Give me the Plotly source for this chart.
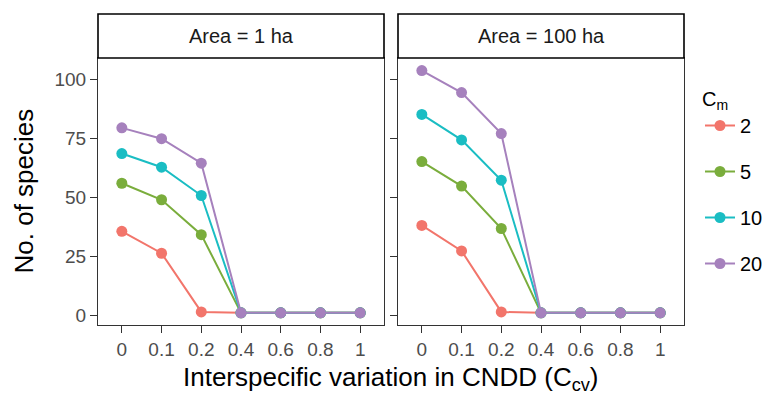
import plotly.graph_objects as go

ccv = ["0", "0.1", "0.2", "0.4", "0.6", "0.8", "1"]
cm_levels = ["2", "5", "10", "20"]
colors = ["#F2756B", "#7AAD3C", "#1ABDC3", "#A681BD"]

area1 = {
    "2":  [35.6, 26.3, 1.4, 1, 1, 1, 1],
    "5":  [56.0, 49.0, 34.2, 1, 1, 1, 1],
    "10": [68.6, 62.8, 50.8, 1, 1, 1, 1],
    "20": [79.5, 74.9, 64.5, 1, 1, 1, 1],
}
area100 = {
    "2":  [38.1, 27.3, 1.4, 1, 1, 1, 1],
    "5":  [65.2, 54.8, 36.8, 1, 1, 1, 1],
    "10": [85.2, 74.4, 57.3, 1, 1, 1, 1],
    "20": [103.8, 94.5, 77.1, 1, 1, 1, 1],
}
panels = ["Area = 1 ha", "Area = 100 ha"]

FONT = "Liberation Sans, Arial, Helvetica, sans-serif"
fig = go.Figure()

for pi, data in enumerate([area1, area100]):
    xa = "x" if pi == 0 else "x2"
    ya = "y" if pi == 0 else "y2"
    for cm, col in zip(cm_levels, colors):
        fig.add_trace(go.Scatter(
            x=ccv, y=data[cm], mode="lines+markers",
            line=dict(color=col, width=2),
            marker=dict(color=col, size=11),
            name=cm, legendgroup=cm, showlegend=(pi == 0),
            xaxis=xa, yaxis=ya,
        ))

OFF = 8  # browser body margin
W, H = 781 - OFF, 395 - OFF
L, R, T, B = 98 - OFF, 684 - OFF, 58 - OFF, 325 - OFF
pw = R - L
ph = B - T
d1 = [0, (384 - OFF - L) / pw]
d2 = [(398 - OFF - L) / pw, 1]

axis_common = dict(
    showline=True, mirror=True, linecolor="#333333", linewidth=1.1,
    ticks="outside", ticklen=7, tickcolor="#333333", tickwidth=1.1,
    tickfont=dict(family=FONT, size=19, color="#4D4D4D"),
    showgrid=False, zeroline=False,
)
xcommon = dict(axis_common, type="category", categoryorder="array",
               categoryarray=ccv, range=[-0.6, 6.6])
ycommon = dict(axis_common, range=[-4.15, 109.15], tickvals=[0, 25, 50, 75, 100])

fig.update_layout(
    width=W, height=H,
    margin=dict(l=L, r=W - R, t=T, b=H - B, pad=0),
    paper_bgcolor="white", plot_bgcolor="white",
    font=dict(family=FONT, color="black"),
    xaxis=dict(xcommon, domain=d1, anchor="y"),
    xaxis2=dict(xcommon, domain=d2, anchor="y2"),
    yaxis=dict(ycommon, domain=[0, 1], anchor="x"),
    yaxis2=dict(ycommon, domain=[0, 1], anchor="x2", showticklabels=False),
    legend=dict(
        x=(700 - 98) / pw, xanchor="left", y=1 - (80 - 58) / ph, yanchor="top",
        title=dict(text="C<sub>m</sub>", font=dict(size=20, family=FONT)),
        font=dict(size=20, family=FONT), tracegroupgap=17, itemwidth=30,
        bgcolor="rgba(0,0,0,0)",
    ),
)

strip_top = 1 + (58 - 14) / ph
for d, label in zip([d1, d2], panels):
    fig.add_shape(type="rect", xref="paper", yref="paper",
                  x0=d[0], x1=d[1], y0=1, y1=strip_top,
                  line=dict(color="black", width=1.6), fillcolor="white")
    fig.add_annotation(xref="paper", yref="paper", x=(d[0] + d[1]) / 2,
                       y=(1 + strip_top) / 2, text=label, showarrow=False,
                       xanchor="center", yanchor="middle",
                       font=dict(family=FONT, size=20, color="#1A1A1A"))

fig.add_annotation(xref="paper", yref="paper", x=0.5, y=-(378 - 325) / ph,
                   text="Interspecific variation in CNDD (C<sub>cv</sub>)",
                   showarrow=False, xanchor="center", yanchor="middle",
                   font=dict(family=FONT, size=26, color="black"))
fig.add_annotation(xref="paper", yref="paper", x=-(98 - 23) / pw, y=0.5,
                   text="No. of species", textangle=-90, showarrow=False,
                   xanchor="center", yanchor="middle",
                   font=dict(family=FONT, size=26, color="black"))

fig.write_html("out.html")
